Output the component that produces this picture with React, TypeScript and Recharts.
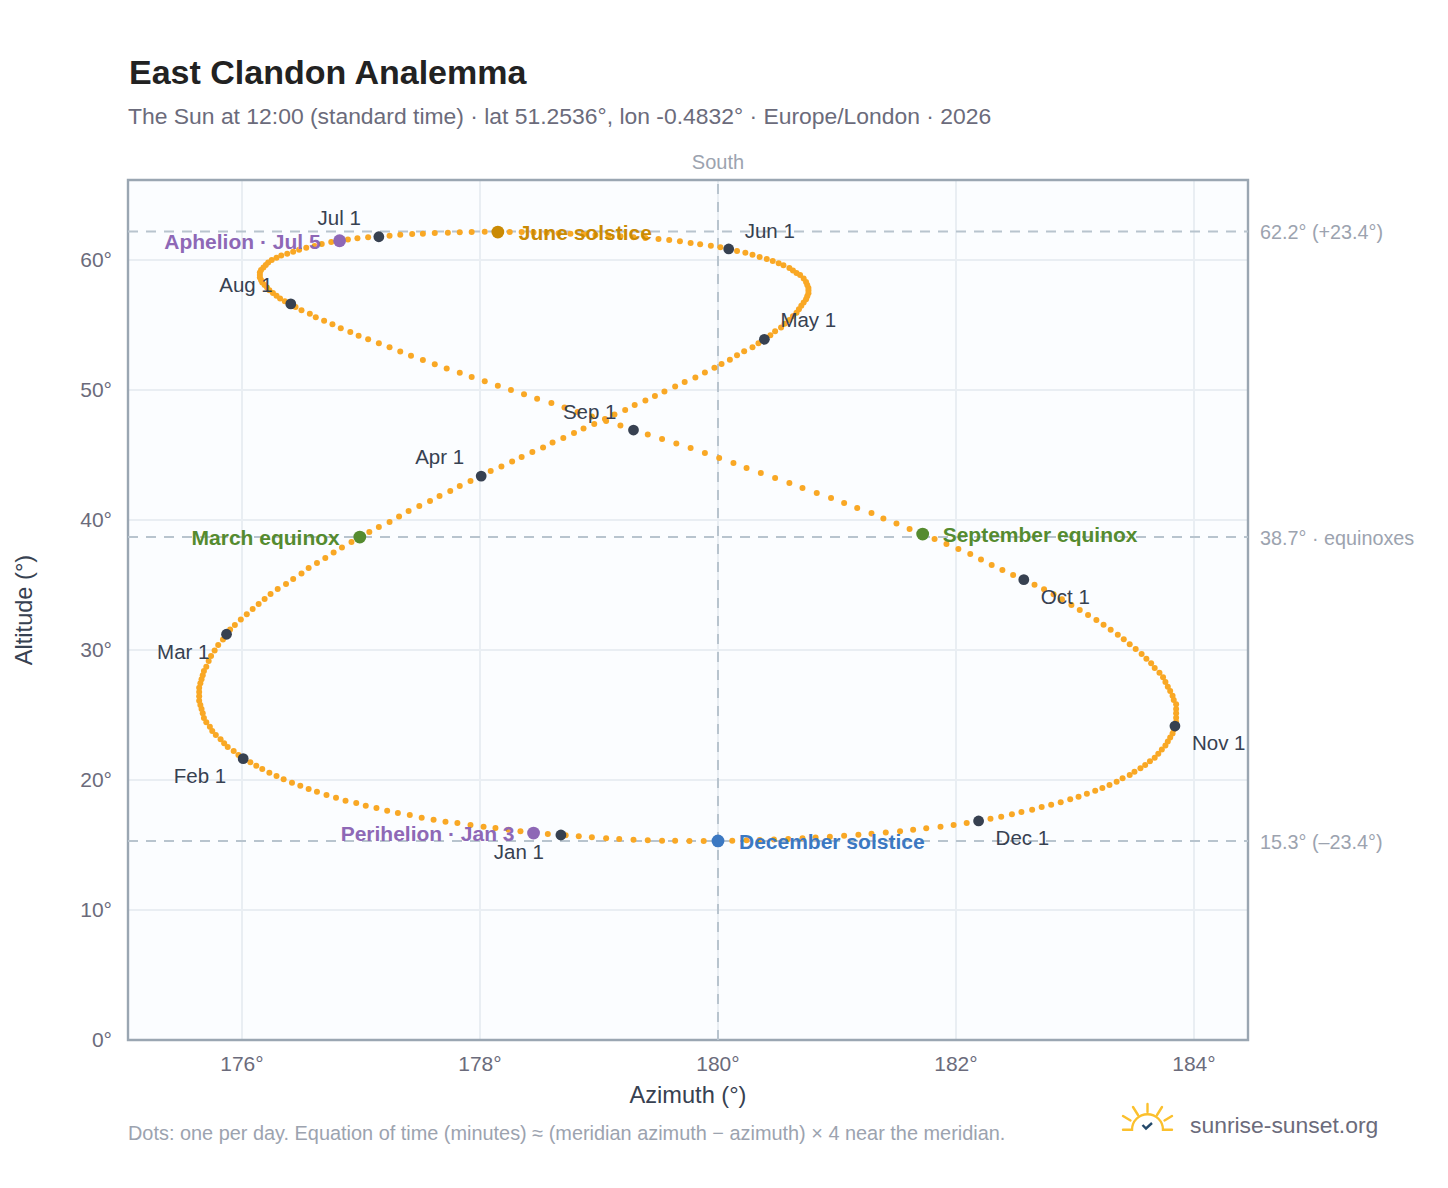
import React from "react";
import { ScatterChart, Scatter, XAxis, YAxis, CartesianGrid, ReferenceLine, ReferenceArea } from "recharts";

// Sun position at 12:00, one value per day
const janAz = [178.68, 178.57, 178.45, 178.34, 178.24, 178.13, 178.03, 177.92, 177.81, 177.71, 177.61, 177.51, 177.41, 177.31, 177.22, 177.13, 177.04, 176.96, 176.87, 176.79, 176.71, 176.63, 176.56, 176.49, 176.42, 176.35, 176.29, 176.23, 176.17, 176.12, 176.07];
const janAlt = [15.77, 15.85, 15.92, 16.05, 16.18, 16.31, 16.41, 16.54, 16.69, 16.79, 16.95, 17.1, 17.31, 17.46, 17.64, 17.85, 18.02, 18.23, 18.41, 18.64, 18.85, 19.1, 19.31, 19.56, 19.79, 20.05, 20.31, 20.56, 20.85, 21.1, 21.36];
const febAz = [176.01, 175.97, 175.93, 175.88, 175.85, 175.82, 175.78, 175.75, 175.73, 175.7, 175.68, 175.67, 175.66, 175.65, 175.64, 175.64, 175.64, 175.64, 175.65, 175.66, 175.67, 175.68, 175.7, 175.72, 175.74, 175.77, 175.8, 175.84];
const febAlt = [21.64, 21.92, 22.23, 22.54, 22.82, 23.13, 23.46, 23.77, 24.1, 24.44, 24.77, 25.13, 25.46, 25.77, 26.1, 26.44, 26.77, 27.1, 27.44, 27.75, 28.05, 28.38, 28.72, 29.15, 29.54, 29.96, 30.38, 30.81];
const marAz = [175.87, 175.9, 175.94, 175.99, 176.04, 176.09, 176.14, 176.19, 176.24, 176.3, 176.37, 176.43, 176.5, 176.56, 176.63, 176.7, 176.77, 176.84, 176.92, 176.99, 177.07, 177.15, 177.24, 177.32, 177.4, 177.49, 177.58, 177.66, 177.75, 177.83, 177.92];
const marAlt = [31.21, 31.58, 31.92, 32.35, 32.75, 33.15, 33.54, 33.92, 34.31, 34.69, 35.08, 35.46, 35.88, 36.31, 36.69, 37.08, 37.5, 37.88, 38.31, 38.69, 39.08, 39.46, 39.85, 40.27, 40.69, 41.08, 41.46, 41.85, 42.23, 42.62, 43.0];
const aprAz = [178.01, 178.09, 178.18, 178.27, 178.35, 178.44, 178.53, 178.61, 178.7, 178.79, 178.87, 178.96, 179.05, 179.13, 179.22, 179.3, 179.39, 179.47, 179.55, 179.64, 179.72, 179.81, 179.89, 179.97, 180.03, 180.1, 180.16, 180.22, 180.29, 180.34];
const aprAlt = [43.38, 43.77, 44.12, 44.5, 44.85, 45.23, 45.58, 45.96, 46.31, 46.69, 47.04, 47.38, 47.77, 48.12, 48.46, 48.85, 49.19, 49.54, 49.88, 50.27, 50.62, 50.96, 51.35, 51.72, 52.0, 52.33, 52.67, 52.98, 53.28, 53.59];
const mayAz = [180.39, 180.44, 180.48, 180.53, 180.56, 180.6, 180.63, 180.66, 180.68, 180.7, 180.72, 180.74, 180.75, 180.76, 180.76, 180.76, 180.75, 180.74, 180.72, 180.69, 180.66, 180.63, 180.6, 180.55, 180.51, 180.46, 180.41, 180.35, 180.29, 180.23, 180.16];
const mayAlt = [53.9, 54.21, 54.52, 54.81, 55.1, 55.38, 55.67, 55.95, 56.22, 56.48, 56.73, 56.98, 57.22, 57.44, 57.65, 57.85, 58.08, 58.31, 58.58, 58.85, 59.0, 59.19, 59.38, 59.59, 59.75, 59.92, 60.08, 60.23, 60.41, 60.56, 60.69];
const junAz = [180.09, 180.02, 179.94, 179.85, 179.77, 179.68, 179.59, 179.5, 179.39, 179.29, 179.18, 179.08, 178.97, 178.87, 178.76, 178.66, 178.56, 178.45, 178.35, 178.25, 178.15, 178.04, 177.93, 177.83, 177.73, 177.62, 177.52, 177.43, 177.33, 177.24];
const junAlt = [60.85, 60.98, 61.1, 61.21, 61.31, 61.44, 61.54, 61.62, 61.69, 61.75, 61.82, 61.88, 61.92, 61.98, 62.02, 62.06, 62.09, 62.12, 62.15, 62.16, 62.18, 62.18, 62.15, 62.13, 62.1, 62.08, 62.02, 62.0, 61.95, 61.87];
const julAz = [177.15, 177.06, 176.97, 176.89, 176.82, 176.75, 176.67, 176.61, 176.54, 176.48, 176.43, 176.38, 176.33, 176.29, 176.25, 176.22, 176.2, 176.18, 176.16, 176.15, 176.15, 176.15, 176.16, 176.17, 176.19, 176.21, 176.23, 176.26, 176.29, 176.32, 176.36];
const julAlt = [61.79, 61.75, 61.67, 61.58, 61.48, 61.38, 61.23, 61.08, 60.94, 60.79, 60.64, 60.49, 60.35, 60.18, 60.0, 59.81, 59.62, 59.42, 59.23, 59.04, 58.85, 58.65, 58.46, 58.27, 58.08, 57.88, 57.67, 57.46, 57.25, 57.04, 56.82];
const augAz = [176.41, 176.45, 176.5, 176.57, 176.62, 176.69, 176.76, 176.83, 176.91, 176.98, 177.06, 177.15, 177.24, 177.33, 177.42, 177.52, 177.62, 177.72, 177.83, 177.93, 178.04, 178.15, 178.26, 178.37, 178.48, 178.6, 178.71, 178.82, 178.94, 179.06, 179.18];
const augAlt = [56.62, 56.38, 56.13, 55.87, 55.59, 55.33, 55.05, 54.75, 54.46, 54.18, 53.9, 53.59, 53.28, 52.96, 52.63, 52.31, 51.98, 51.65, 51.32, 51.0, 50.67, 50.33, 50.0, 49.67, 49.33, 49.0, 48.65, 48.31, 47.96, 47.62, 47.27];
const sepAz = [179.29, 179.41, 179.53, 179.65, 179.77, 179.89, 180.01, 180.13, 180.24, 180.36, 180.48, 180.6, 180.71, 180.83, 180.95, 181.06, 181.17, 181.29, 181.39, 181.5, 181.61, 181.72, 181.82, 181.92, 182.02, 182.12, 182.21, 182.3, 182.39, 182.48];
const sepAlt = [46.92, 46.58, 46.23, 45.88, 45.54, 45.15, 44.77, 44.38, 44.0, 43.62, 43.23, 42.85, 42.46, 42.08, 41.69, 41.31, 40.92, 40.54, 40.12, 39.73, 39.31, 38.92, 38.54, 38.15, 37.77, 37.38, 36.96, 36.54, 36.15, 35.77];
const octAz = [182.57, 182.66, 182.74, 182.82, 182.89, 182.97, 183.04, 183.11, 183.18, 183.24, 183.3, 183.36, 183.41, 183.46, 183.51, 183.56, 183.6, 183.64, 183.67, 183.71, 183.74, 183.76, 183.78, 183.8, 183.82, 183.83, 183.85, 183.85, 183.85, 183.85, 183.85];
const octAlt = [35.41, 35.02, 34.67, 34.28, 33.9, 33.46, 33.08, 32.69, 32.31, 31.95, 31.56, 31.18, 30.82, 30.44, 30.08, 29.69, 29.33, 28.98, 28.62, 28.25, 27.9, 27.54, 27.18, 26.85, 26.48, 26.15, 25.82, 25.46, 25.13, 24.79, 24.46];
const novAz = [183.84, 183.83, 183.82, 183.8, 183.78, 183.76, 183.73, 183.7, 183.67, 183.63, 183.59, 183.55, 183.5, 183.46, 183.4, 183.35, 183.29, 183.23, 183.17, 183.1, 183.03, 182.96, 182.88, 182.8, 182.72, 182.64, 182.55, 182.47, 182.38, 182.29];
const novAlt = [24.15, 23.88, 23.58, 23.27, 22.96, 22.65, 22.35, 22.02, 21.72, 21.44, 21.15, 20.9, 20.64, 20.38, 20.13, 19.87, 19.62, 19.38, 19.18, 18.95, 18.72, 18.52, 18.28, 18.1, 17.92, 17.72, 17.54, 17.36, 17.18, 17.02];
const decAz = [182.19, 182.09, 181.98, 181.87, 181.75, 181.64, 181.53, 181.41, 181.29, 181.18, 181.06, 180.94, 180.82, 180.71, 180.59, 180.47, 180.35, 180.24, 180.12, 180.0, 179.88, 179.76, 179.64, 179.53, 179.41, 179.29, 179.17, 179.06, 178.94, 178.83, 178.72];
const decAlt = [16.85, 16.69, 16.54, 16.41, 16.28, 16.17, 16.06, 15.96, 15.87, 15.78, 15.71, 15.64, 15.58, 15.52, 15.47, 15.43, 15.39, 15.36, 15.33, 15.31, 15.31, 15.31, 15.33, 15.33, 15.36, 15.41, 15.46, 15.52, 15.59, 15.67, 15.75];

const monthNames = ["Jan 1", "Feb 1", "Mar 1", "Apr 1", "May 1", "Jun 1", "Jul 1", "Aug 1", "Sep 1", "Oct 1", "Nov 1", "Dec 1"];
const monthAz = [janAz, febAz, marAz, aprAz, mayAz, junAz, julAz, augAz, sepAz, octAz, novAz, decAz];
const monthAlt = [janAlt, febAlt, marAlt, aprAlt, mayAlt, junAlt, julAlt, augAlt, sepAlt, octAlt, novAlt, decAlt];

const eventNames = ["June solstice", "March equinox", "September equinox", "December solstice", "Aphelion · Jul 5", "Perihelion · Jan 3"];
const eventAz = [178.15, 176.99, 181.72, 180.0, 176.82, 178.45];
const eventAlt = [62.15, 38.69, 38.92, 15.31, 61.48, 15.92];

const guideAlts = [62.2, 38.7, 15.3];
const guideLabels = ["62.2° (+23.4°)", "38.7° · equinoxes", "15.3° (–23.4°)"];
const azTicks = [176, 178, 180, 182, 184];
const altTicks = [0, 10, 20, 30, 40, 50, 60];

const daily = monthAz.flatMap((days, m) => days.map((az, d) => ({ az, alt: monthAlt[m][d] })));
const firsts = monthNames.map((name, m) => ({ name, az: monthAz[m][0], alt: monthAlt[m][0] }));
const events = eventNames.map((name, i) => ({ name, az: eventAz[i], alt: eventAlt[i] }));

const FONT = '"Liberation Sans", Arial, sans-serif';
const MUTED = "#6b6b7b";
const AZ_MIN = 175.042;
const AZ_MAX = 184.454;
const ALT_MAX = 66.154;

// label placement relative to the dot: dx, dy to baseline, anchor
const monthLabelPos: Record<string, [number, number, string]> = {
  "Jan 1": [-17, 24, "end"],
  "Feb 1": [-17, 24, "end"],
  "Mar 1": [-17, 25, "end"],
  "Apr 1": [-17, -12, "end"],
  "May 1": [16, -12, "start"],
  "Jun 1": [16, -11, "start"],
  "Jul 1": [-18, -12, "end"],
  "Aug 1": [-18, -12, "end"],
  "Sep 1": [-17, -11, "end"],
  "Oct 1": [17, 24, "start"],
  "Nov 1": [17, 24, "start"],
  "Dec 1": [17, 24, "start"],
};

const eventStyle: Record<string, { color: string; dx: number; anchor: string }> = {
  "June solstice": { color: "#ca8a04", dx: 21, anchor: "start" },
  "March equinox": { color: "#558b2f", dx: -20, anchor: "end" },
  "September equinox": { color: "#558b2f", dx: 20, anchor: "start" },
  "December solstice": { color: "#3b78c2", dx: 21, anchor: "start" },
  "Aphelion · Jul 5": { color: "#8e68b6", dx: -19, anchor: "end" },
  "Perihelion · Jan 3": { color: "#8e68b6", dx: -19, anchor: "end" },
};

const DayDot = (props: any) => <circle cx={props.cx} cy={props.cy} r={3} fill="#f9a825" />;

const MonthDot = (props: any) => {
  const [dx, dy, anchor] = monthLabelPos[props.payload.name];
  return (
    <g>
      <circle cx={props.cx} cy={props.cy} r={5.4} fill="#374151" />
      <text x={props.cx + dx} y={props.cy + dy} textAnchor={anchor as any} fontSize={20.5} fontFamily={FONT} fill="#374151">
        {props.payload.name}
      </text>
    </g>
  );
};

const EventDot = (props: any) => {
  const s = eventStyle[props.payload.name];
  return (
    <g>
      <circle cx={props.cx} cy={props.cy} r={6.4} fill={s.color} />
      <text x={props.cx + s.dx} y={props.cy + 8} textAnchor={s.anchor as any} fontSize={21} fontWeight="bold" fontFamily={FONT} fill={s.color}>
        {props.payload.name}
      </text>
    </g>
  );
};

const SunLogo = () => (
  <svg width={60} height={36} viewBox="0 0 60 36" style={{ position: "absolute", left: 1118, top: 1100 }}>
    <g stroke="#fbc02d" strokeWidth={2.4} fill="none" strokeLinecap="round">
      <path d="M5 29.7 H14 A15.5 15.5 0 0 1 45 29.7 H54" />
      <path d="M29.5 4 V12" />
      <path d="M15 7 L20 15" />
      <path d="M44 7 L39 15" />
      <path d="M5 16 L12.5 20.5" />
      <path d="M54 16 L46.5 20.5" />
    </g>
    <path d="M24.5 25 L28 28.5 L34 23" stroke="#24496b" strokeWidth={2.4} fill="none" />
  </svg>
);

export default function App() {
  return (
    <div style={{ position: "absolute", left: 0, top: 0, width: 1448, height: 1188, background: "#fff", fontFamily: FONT, overflow: "hidden" }}>
      <div style={{ position: "absolute", left: 129, top: 52, fontSize: 34, lineHeight: "40px", fontWeight: "bold", color: "#222222" }}>
        East Clandon Analemma
      </div>
      <div style={{ position: "absolute", left: 128, top: 103, fontSize: 22.9, lineHeight: "26px", color: MUTED }}>
        The Sun at 12:00 (standard time) · lat 51.2536°, lon -0.4832° · Europe/London · 2026
      </div>
      <ScatterChart width={1448} height={1188} margin={{ top: 180, right: 200, bottom: 68, left: 48 }}>
        <CartesianGrid fill="#fbfdff" stroke="#e9eef3" strokeWidth={2} />
        <XAxis
          type="number"
          dataKey="az"
          domain={[AZ_MIN, AZ_MAX]}
          ticks={azTicks}
          tickFormatter={(v: number) => `${v}°`}
          axisLine={false}
          tickLine={false}
          tickMargin={10}
          height={80}
          tick={{ fontSize: 21, fill: MUTED, fontFamily: FONT }}
          label={{ value: "Azimuth (°)", position: "insideBottom", offset: 17, fontSize: 23.6, fill: "#374151", fontFamily: FONT }}
          allowDataOverflow
        />
        <YAxis
          type="number"
          dataKey="alt"
          domain={[0, ALT_MAX]}
          ticks={altTicks}
          tickFormatter={(v: number) => `${v}°`}
          axisLine={false}
          tickLine={false}
          tickMargin={10}
          width={80}
          tick={{ fontSize: 21, fill: MUTED, fontFamily: FONT }}
          label={{ value: "Altitude (°)", position: "insideLeft", angle: -90, offset: -24, fontSize: 23.6, fill: "#374151", fontFamily: FONT, style: { textAnchor: "middle" } }}
          allowDataOverflow
        />
        {guideAlts.map((alt, i) => (
          <ReferenceLine
            key={alt}
            y={alt}
            stroke="#b8c4ce"
            strokeWidth={2}
            strokeDasharray="10 8"
            label={{ value: guideLabels[i], position: "right", offset: 12, dy: 1, fontSize: 19.8, fill: "#9ca3af", fontFamily: FONT }}
          />
        ))}
        <ReferenceLine
          x={180}
          stroke="#b8c4ce"
          strokeWidth={2}
          strokeDasharray="10 8"
          label={{ value: "South", position: "top", offset: 11, fontSize: 20, fill: "#9ca3af", fontFamily: FONT }}
        />
        <ReferenceArea x1={AZ_MIN} x2={AZ_MAX} y1={0} y2={ALT_MAX} fill="none" stroke="#9aa6b2" strokeWidth={2.4} />
        <Scatter data={daily} shape={DayDot} isAnimationActive={false} />
        <Scatter data={firsts} shape={MonthDot} isAnimationActive={false} />
        <Scatter data={events} shape={EventDot} isAnimationActive={false} />
      </ScatterChart>
      <div style={{ position: "absolute", left: 128, top: 1122, fontSize: 19.9, lineHeight: "22px", color: "#9ca3af" }}>
        Dots: one per day. Equation of time (minutes) ≈ (meridian azimuth − azimuth) × 4 near the meridian.
      </div>
      <SunLogo />
      <div style={{ position: "absolute", left: 1190, top: 1112, fontSize: 22.9, lineHeight: "26px", color: MUTED }}>
        sunrise-sunset.org
      </div>
    </div>
  );
}
